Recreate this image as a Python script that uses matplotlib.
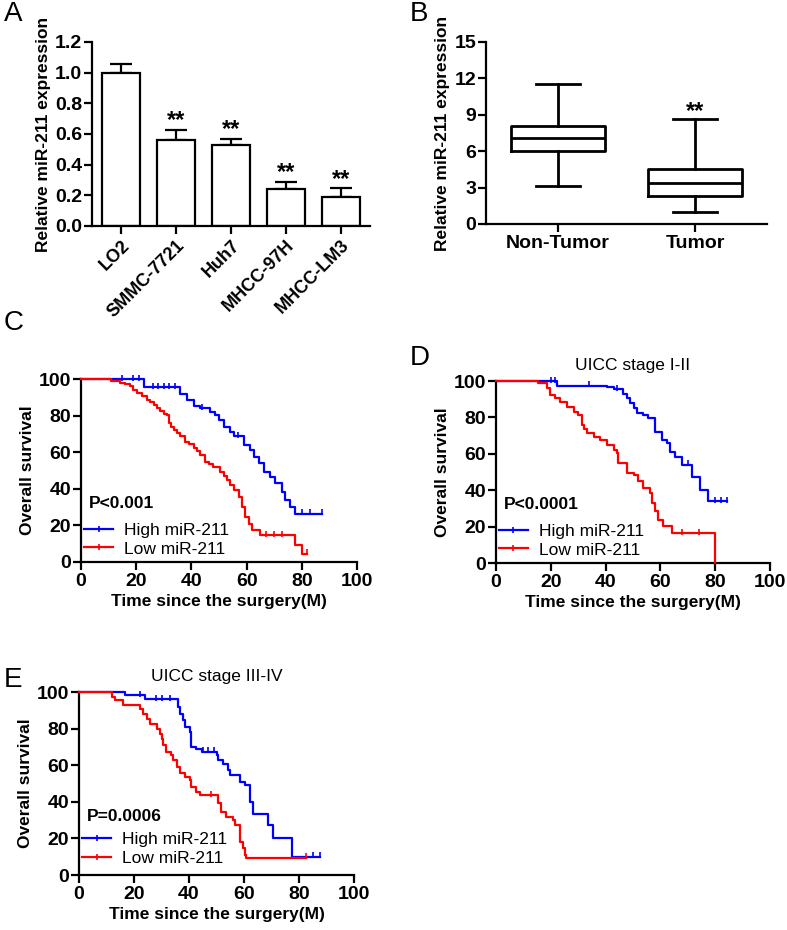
import numpy as np
import matplotlib
matplotlib.use("Agg")
import matplotlib.pyplot as plt

plt.rcParams['font.family'] = ['Liberation Sans', 'DejaVu Sans']
plt.rcParams['font.size'] = 12.5

# ---- panel A data ----
cell_lines = ['LO2', 'SMMC-7721', 'Huh7', 'MHCC-97H', 'MHCC-LM3']
a_vals = [1.0, 0.56, 0.53, 0.24, 0.19]
a_err = [0.055, 0.065, 0.04, 0.05, 0.055]
a_sig = ['', '**', '**', '**', '**']

# ---- panel B data (box stats) ----
b_groups = ['Non-Tumor', 'Tumor']
b_whislo = [3.1, 0.95]
b_q1 = [6.0, 2.3]
b_med = [7.05, 3.35]
b_q3 = [8.1, 4.5]
b_whishi = [11.5, 8.65]

# ---- Kaplan-Meier curves: (time, survival) step knots ----
c_high = [(0, 100), (22.7, 95.5), (36.0, 92), (38.4, 88.7), (40.8, 85), (43, 84), (46.9, 82),
          (48.7, 80.4), (49.9, 77.7), (51.7, 74), (54, 71.3), (55.3, 68.6), (59, 64), (61.4, 61),
          (62.6, 57.6), (64.4, 54), (66.2, 49.4), (68.6, 46.6), (70.4, 43), (72.8, 38.4),
          (74, 33.8), (75.8, 30.2), (77.7, 26.5)]
c_high_end = 87.3
c_high_cens = [15, 19, 21, 26, 28, 30, 32, 34, 44, 57, 80, 83, 87.3]
c_low = [(0, 100), (11, 99), (14.3, 98), (16, 97), (17.9, 96), (19, 94), (20.3, 92.3), (22, 90.5),
         (23.9, 88.7), (25, 87.5), (26.3, 86), (27.5, 84), (28.7, 82.3), (30, 81), (31.2, 80.4),
         (31.8, 75.9), (32.7, 74), (33.6, 72.2), (34.8, 70.5), (36, 68.6), (37.8, 65.8), (39, 64.5),
         (40.8, 62.2), (42, 60.5), (43.2, 58.5), (45, 54.8), (46.5, 53.5), (48, 52), (50.5, 49.4),
         (51.7, 47), (52.9, 44.8), (54, 42), (55.3, 39.3), (57.1, 35.6), (58.3, 30.2), (59.5, 24.7),
         (60.7, 21), (61.9, 17.4), (65, 14.6), (77.7, 9.1), (80, 4.6)]
c_low_end = 81.9
c_low_cens = [67, 70, 73, 81.9]

d_high = [(0, 100), (22.2, 97.3), (40.5, 96.5), (42.9, 95.4), (46.5, 93), (47.8, 90.5), (49, 87.8),
          (50.2, 85), (51.4, 82.3), (53.8, 81.4), (55.6, 79.5), (58, 72.2), (60.5, 67.6),
          (62.3, 65.8), (63.6, 61.2), (65.4, 58.5), (67.8, 54), (71.4, 47.5), (74.5, 40.2),
          (77.5, 33.8)]
d_high_end = 84.2
d_high_cens = [20, 21.5, 34, 44, 70, 80, 82, 84.2]
d_low = [(0, 100), (15.5, 99), (16.2, 98.7), (18.6, 96), (19.8, 92.3), (21.6, 90.5), (23.5, 88.7),
         (25.9, 85.9), (28.3, 83.2), (30.1, 81.4), (31.4, 75.9), (32.2, 73.5), (33.2, 71.3),
         (35.6, 69.5), (38, 67.6), (40.5, 64.9), (42.9, 62.2), (44.1, 60.3), (44.7, 54.8),
         (47.8, 49.4), (50.2, 48.4), (52, 44.8), (53.8, 41.1), (56.3, 38.4), (56.9, 32.9),
         (58.1, 28.3), (59.3, 23.8), (61.1, 20.1), (64.2, 16.5), (80, 0)]
d_low_end = 80
d_low_cens = [68, 74]

e_high = [(0, 100), (16.7, 98.2), (24, 96), (36, 91.8), (36.7, 88.2), (37.9, 84.5), (38.5, 80.9),
          (40.3, 78.2), (40.9, 70), (42.7, 69), (44.6, 67.3), (50, 65.5), (50.6, 62.7), (52.4, 60.9),
          (54.2, 57.3), (54.8, 54.5), (58.5, 50.9), (60.3, 49.1), (62.1, 40), (63.3, 33.6),
          (68.8, 27.3), (70.6, 20), (77.5, 10)]
e_high_end = 87.5
e_high_cens = [22, 28, 30, 33, 45, 47, 49, 85, 87.5]
e_low = [(0, 100), (11.9, 97.3), (13, 95.5), (16.1, 92.7), (22.2, 90.9), (23.4, 88.2), (24.6, 85.5),
         (25.8, 82.7), (28.2, 80), (29.4, 77.3), (30, 74.5), (30.6, 70.9), (31.8, 67.3), (33.6, 65.5),
         (34.3, 62.7), (35.5, 59.1), (36.7, 55.5), (38.5, 53.6), (40.3, 51.8), (40.9, 48.2),
         (42.7, 45.5), (43.9, 43.6), (50.6, 39.1), (51.8, 34.5), (53.6, 31.8), (56, 30), (56.7, 27.3),
         (58.5, 26.4), (58.7, 18.2), (59.7, 14.5), (60.3, 10.9), (60.9, 9.5)]
e_low_end = 82.7
e_low_cens = [48, 82.7]

LW = 1.6
W, H = 787, 930
fig = plt.figure(figsize=(W / 100, H / 100), dpi=100)


def add_axes(left, top, right, bottom):
    return fig.add_axes([left / W, 1 - bottom / H, (right - left) / W, (bottom - top) / H])


def style(ax):
    for s in ['top', 'right']:
        ax.spines[s].set_visible(False)
    for s in ['left', 'bottom']:
        ax.spines[s].set_linewidth(LW)
    ax.tick_params(direction='out', length=6, width=LW, labelsize=14)
    ax.tick_params(axis='y', pad=1)
    ax.tick_params(axis='x', pad=2)
    for lab in ax.get_xticklabels() + ax.get_yticklabels():
        lab.set_fontweight('bold')


def letter(x, y, s):
    fig.text(x / W, 1 - y / H, s, fontsize=20, va='top', ha='left')


# ---- A: bar chart ----
ax = add_axes(92, 42, 370, 226)
x = np.arange(len(cell_lines))
ax.bar(x, a_vals, width=0.69, color='white', edgecolor='black', linewidth=LW, zorder=2)
ax.errorbar(x, a_vals, yerr=[np.zeros(len(a_err)), a_err], fmt='none', ecolor='black',
            elinewidth=LW, capsize=8, capthick=LW, zorder=1)
for xi, v, e, s in zip(x, a_vals, a_err, a_sig):
    if s:
        ax.text(xi, v + e - 0.015, s, ha='center', va='bottom', fontsize=17, fontweight='bold')
ax.set_xlim(-0.53, 4.53)
ax.set_ylim(0, 1.2)
ax.set_yticks(np.arange(0, 1.21, 0.2))
ax.set_yticklabels([f'{v:.1f}' for v in np.arange(0, 1.21, 0.2)])
ax.set_xticks(x)
ax.set_xticklabels(cell_lines, rotation=45, ha='right', rotation_mode='anchor')
ax.set_ylabel('Relative miR-211 expression', fontweight='bold', labelpad=3)
style(ax)
ax.tick_params(axis='x', labelsize=13)
letter(4, 1, 'A')

# ---- B: box plot ----
ax = add_axes(486, 42, 767, 224)
stats = [dict(med=m, q1=a, q3=b, whislo=lo, whishi=hi, label=g)
         for g, lo, a, m, b, hi in zip(b_groups, b_whislo, b_q1, b_med, b_q3, b_whishi)]
lp = dict(color='black', linewidth=LW + 0.4)
ax.bxp(stats, positions=[0, 1], widths=0.69, showfliers=False, capwidths=0.32,
       boxprops=lp, whiskerprops=lp, capprops=lp, medianprops=lp)
ax.text(1, b_whishi[1] - 0.35, '**', ha='center', va='bottom', fontsize=17, fontweight='bold')
ax.set_xlim(-0.526, 1.526)
ax.set_ylim(0, 15)
ax.set_yticks([0, 3, 6, 9, 12, 15])
ax.set_ylabel('Relative miR-211 expression', fontweight='bold', labelpad=3)
style(ax)
letter(410, 1, 'B')


# ---- KM panels ----
def km(ax, knots, end, cens, color, label):
    t = [k[0] for k in knots] + [end]
    s = [k[1] for k in knots] + [knots[-1][1]]
    ax.step(t, s, where='post', color=color, linewidth=LW, clip_on=False, zorder=3)
    idx = np.searchsorted([k[0] for k in knots], cens, side='right') - 1
    cy = [knots[i][1] for i in idx]
    ax.plot(cens, np.array(cy) + 0.8, linestyle='none', marker='|', markersize=4,
            markeredgewidth=1.2, color=color, clip_on=False, zorder=3)
    ax.plot([], [], color=color, linewidth=LW, marker='|', markersize=4,
            markeredgewidth=1.2, label=label)


def km_panel(box, high, high_end, high_cens, low, low_end, low_cens, ptxt, title, let, lpos,
             leg_y):
    ax = add_axes(*box)
    km(ax, high, high_end, high_cens, 'blue', 'High miR-211')
    km(ax, low, low_end, low_cens, 'red', 'Low miR-211')
    ax.set_xlim(0, 100)
    ax.set_ylim(0, 100)
    ax.set_xticks(range(0, 101, 20))
    ax.set_yticks(range(0, 101, 20))
    ax.set_xlabel('Time since the surgery(M)', fontweight='bold', labelpad=3)
    ax.set_ylabel('Overall survival', fontweight='bold', labelpad=3)
    style(ax)
    ax.legend(loc='lower left', bbox_to_anchor=(0.01, leg_y), frameon=False, fontsize=12.5,
              handlelength=1.7, handletextpad=0.6, labelspacing=0.2, borderpad=0,
              borderaxespad=0)
    ax.text(0.03, 0.32, ptxt, transform=ax.transAxes, fontsize=12.5, fontweight='bold',
            va='center', ha='left')
    if title:
        ax.set_title(title, fontsize=12.5, pad=8)
    letter(lpos[0], lpos[1], let)
    return ax


km_panel((81, 379, 357, 562), c_high, c_high_end, c_high_cens, c_low, c_low_end, c_low_cens,
         'P<0.001', None, 'C', (4, 310), 0.03)
km_panel((496, 381, 770, 563), d_high, d_high_end, d_high_cens, d_low, d_low_end, d_low_cens,
         'P<0.0001', 'UICC stage I-II', 'D', (410, 345), 0.03)
km_panel((79, 692, 354, 875), e_high, e_high_end, e_high_cens, e_low, e_low_end, e_low_cens,
         'P=0.0006', 'UICC stage III-IV', 'E', (4, 667), 0.05)

fig.savefig('out.png', dpi=100)
